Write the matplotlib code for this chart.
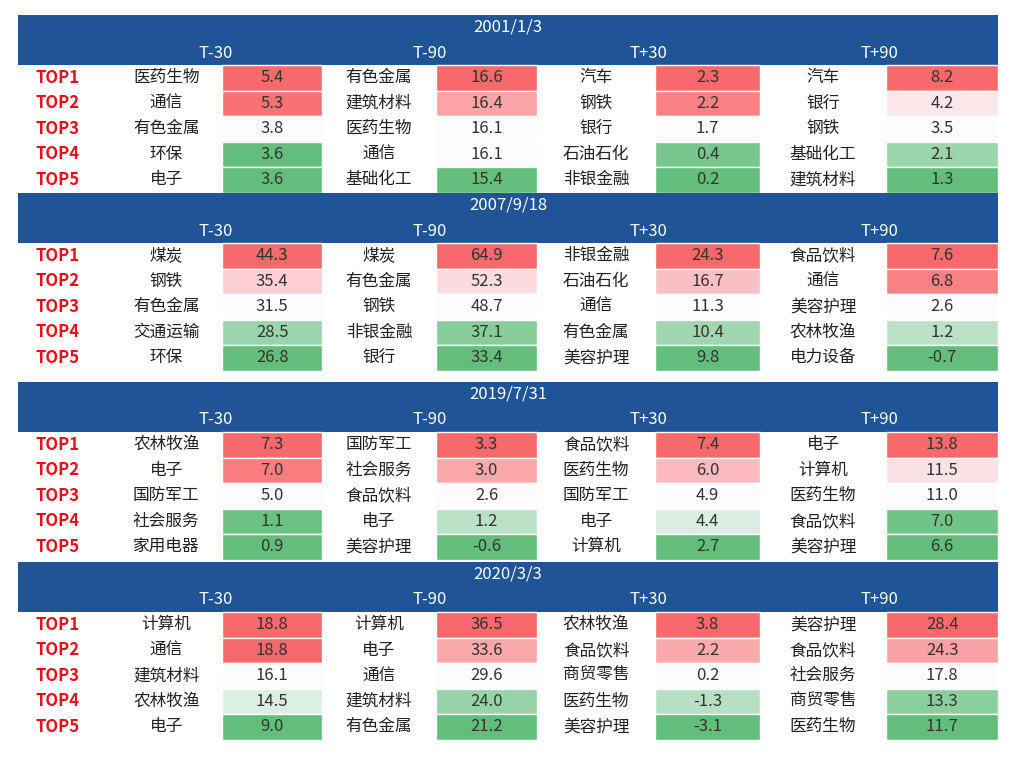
import matplotlib.pyplot as plt
from matplotlib.patches import Rectangle
import numpy as np

plt.rcParams['font.family'] = ['Noto Sans CJK SC', 'DejaVu Sans']

dates = ["2001/1/3", "2007/9/18", "2019/7/31", "2020/3/3"]
periods = ["T-30", "T-90", "T+30", "T+90"]
ranks = ["TOP1", "TOP2", "TOP3", "TOP4", "TOP5"]

names_2001 = [["医药生物", "通信", "有色金属", "环保", "电子"],
              ["有色金属", "建筑材料", "医药生物", "通信", "基础化工"],
              ["汽车", "钢铁", "银行", "石油石化", "非银金融"],
              ["汽车", "银行", "钢铁", "基础化工", "建筑材料"]]
vals_2001 = [[5.4, 5.3, 3.8, 3.6, 3.6],
             [16.6, 16.4, 16.1, 16.1, 15.4],
             [2.3, 2.2, 1.7, 0.4, 0.2],
             [8.2, 4.2, 3.5, 2.1, 1.3]]
names_2007 = [["煤炭", "钢铁", "有色金属", "交通运输", "环保"],
              ["煤炭", "有色金属", "钢铁", "非银金融", "银行"],
              ["非银金融", "石油石化", "通信", "有色金属", "美容护理"],
              ["食品饮料", "通信", "美容护理", "农林牧渔", "电力设备"]]
vals_2007 = [[44.3, 35.4, 31.5, 28.5, 26.8],
             [64.9, 52.3, 48.7, 37.1, 33.4],
             [24.3, 16.7, 11.3, 10.4, 9.8],
             [7.6, 6.8, 2.6, 1.2, -0.7]]
names_2019 = [["农林牧渔", "电子", "国防军工", "社会服务", "家用电器"],
              ["国防军工", "社会服务", "食品饮料", "电子", "美容护理"],
              ["食品饮料", "医药生物", "国防军工", "电子", "计算机"],
              ["电子", "计算机", "医药生物", "食品饮料", "美容护理"]]
vals_2019 = [[7.3, 7.0, 5.0, 1.1, 0.9],
             [3.3, 3.0, 2.6, 1.2, -0.6],
             [7.4, 6.0, 4.9, 4.4, 2.7],
             [13.8, 11.5, 11.0, 7.0, 6.6]]
names_2020 = [["计算机", "通信", "建筑材料", "农林牧渔", "电子"],
              ["计算机", "电子", "通信", "建筑材料", "有色金属"],
              ["农林牧渔", "食品饮料", "商贸零售", "医药生物", "美容护理"],
              ["美容护理", "食品饮料", "社会服务", "商贸零售", "医药生物"]]
vals_2020 = [[18.8, 18.8, 16.1, 14.5, 9.0],
             [36.5, 33.6, 29.6, 24.0, 21.2],
             [3.8, 2.2, 0.2, -1.3, -3.1],
             [28.4, 24.3, 17.8, 13.3, 11.7]]

all_names = [names_2001, names_2007, names_2019, names_2020]
all_vals = [vals_2001, vals_2007, vals_2019, vals_2020]

BLUE = "#1F5597"
RED = np.array([0xF8, 0x69, 0x6B]) / 255
MID = np.array([0xFC, 0xFC, 0xFF]) / 255
GREEN = np.array([0x63, 0xBE, 0x7B]) / 255


def scale_color(v, col):
    lo, med, hi = min(col), float(np.median(col)), max(col)
    if v >= med:
        t = 0 if hi == med else (v - med) / (hi - med)
        return MID + (RED - MID) * t
    t = 0 if lo == med else (med - v) / (med - lo)
    return MID + (GREEN - MID) * t


fig = plt.figure(figsize=(10.24, 7.63), dpi=100)
ax = fig.add_axes([0, 0, 1, 1])
ax.set_xlim(0, 1024)
ax.set_ylim(763, 0)
ax.axis("off")

x0, x1 = 18, 998
label_w = 92
grp_x = [110, 322, 537, 760, 998]
section_top = [15, 193, 382, 562]
title_h, head_h, row_h = 24, 26, 25.5

for s, top in enumerate(section_top):
    ax.add_patch(Rectangle((x0, top), x1 - x0, title_h + head_h, color=BLUE, lw=0))
    ax.text((x0 + x1) / 2, top + title_h / 2, dates[s], color="white",
            ha="center", va="center", fontsize=12)
    for g in range(4):
        ax.text((grp_x[g] + grp_x[g + 1]) / 2, top + title_h + head_h / 2 + 1,
                periods[g], color="white", ha="center", va="center", fontsize=12)
    ytop = top + title_h + head_h
    for r in range(5):
        yc = ytop + r * row_h + row_h / 2
        ax.text(x0 + label_w / 2 - 6, yc, ranks[r], color="#E8101A", fontweight="bold",
                ha="center", va="center", fontsize=12)
        for g in range(4):
            gx0, gx1 = grp_x[g], grp_x[g + 1]
            split = gx0 + (gx1 - gx0) * 0.53
            v = all_vals[s][g][r]
            ax.add_patch(Rectangle((split, ytop + r * row_h), gx1 - split, row_h,
                                   facecolor=scale_color(v, all_vals[s][g]),
                                   edgecolor="white", lw=1))
            ax.text((gx0 + split) / 2, yc, all_names[s][g][r], color="#222222",
                    ha="center", va="center", fontsize=12)
            ax.text((split + gx1) / 2, yc, f"{v:.1f}", color="#333333",
                    ha="center", va="center", fontsize=12)

fig.savefig("out.png", dpi=100)
